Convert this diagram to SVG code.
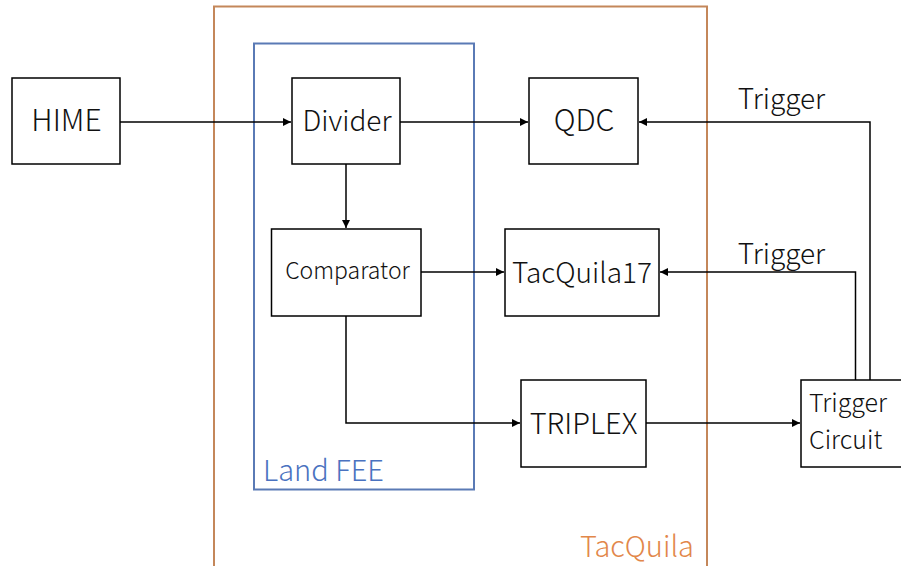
<svg xmlns="http://www.w3.org/2000/svg" width="901" height="566" viewBox="0 0 901 566">
<style>
.box{fill:#fff;stroke:#000;stroke-width:1.5}
.t{font-family:"Noto Sans CJK JP","Noto Sans",sans-serif;font-weight:300;fill:#111;text-anchor:middle}
.c{fill:none;stroke:#000;stroke-width:1.5}
</style>
<defs>
<marker id="a" viewBox="0 0 10 10" refX="10" refY="5" markerWidth="9" markerHeight="8" markerUnits="userSpaceOnUse" orient="auto"><path d="M0,0L10,5L0,10z" fill="#000"/></marker>
</defs>
<rect width="901" height="566" fill="#fff"/>
<g id="tacquila"><path d="M214,566V6.5H707V566" fill="none" stroke="#C4875A" stroke-width="2"/><text x="637" y="557" class="t" style="fill:#E2874A" font-size="29">TacQuila</text></g>
<g id="landfee"><rect x="254" y="43.5" width="220" height="446" fill="none" stroke="#5A7AB5" stroke-width="2"/><text x="323.5" y="481" class="t" style="fill:#4A72C0" font-size="29">Land FEE</text></g>
<g id="connectors">
<path class="c" d="M120,122H291" marker-end="url(#a)"/>
<path class="c" d="M400,122H528" marker-end="url(#a)"/>
<path class="c" d="M346,164V228" marker-end="url(#a)"/>
<path class="c" d="M421,272H504" marker-end="url(#a)"/>
<path class="c" d="M346,316V423H520" marker-end="url(#a)"/>
<path class="c" d="M646,423H800" marker-end="url(#a)"/>
<path class="c" d="M870,380V122H639" marker-end="url(#a)"/>
<path class="c" d="M855.5,380V272H660" marker-end="url(#a)"/>
<text x="781.5" y="109" class="t" font-size="28">Trigger</text>
<text x="781.5" y="264" class="t" font-size="28">Trigger</text>
</g>
<g id="hime"><rect class="box" x="12" y="78" width="108" height="86"/><text x="66.5" y="131" class="t" font-size="30">HIME</text></g>
<g id="divider"><rect class="box" x="292" y="78" width="108" height="86"/><text x="347" y="131" class="t" font-size="28">Divider</text></g>
<g id="qdc"><rect class="box" x="529" y="78" width="109" height="86"/><text x="584" y="131" class="t" font-size="30">QDC</text></g>
<g id="comparator"><rect class="box" x="271.5" y="229" width="149.5" height="87"/><text x="347.5" y="279" class="t" font-size="23">Comparator</text></g>
<g id="tacquila17"><rect class="box" x="505" y="229" width="154" height="87"/><text x="582" y="283" class="t" font-size="28">TacQuila17</text></g>
<g id="triplex"><rect class="box" x="521" y="380" width="125" height="87"/><text x="583.5" y="434" class="t" font-size="29">TRIPLEX</text></g>
<g id="triggercircuit"><rect class="box" x="801" y="380" width="110" height="87"/><text class="t" style="text-anchor:start" font-size="25"><tspan x="809" y="412">Trigger</tspan><tspan x="809" y="449">Circuit</tspan></text></g>
</svg>
